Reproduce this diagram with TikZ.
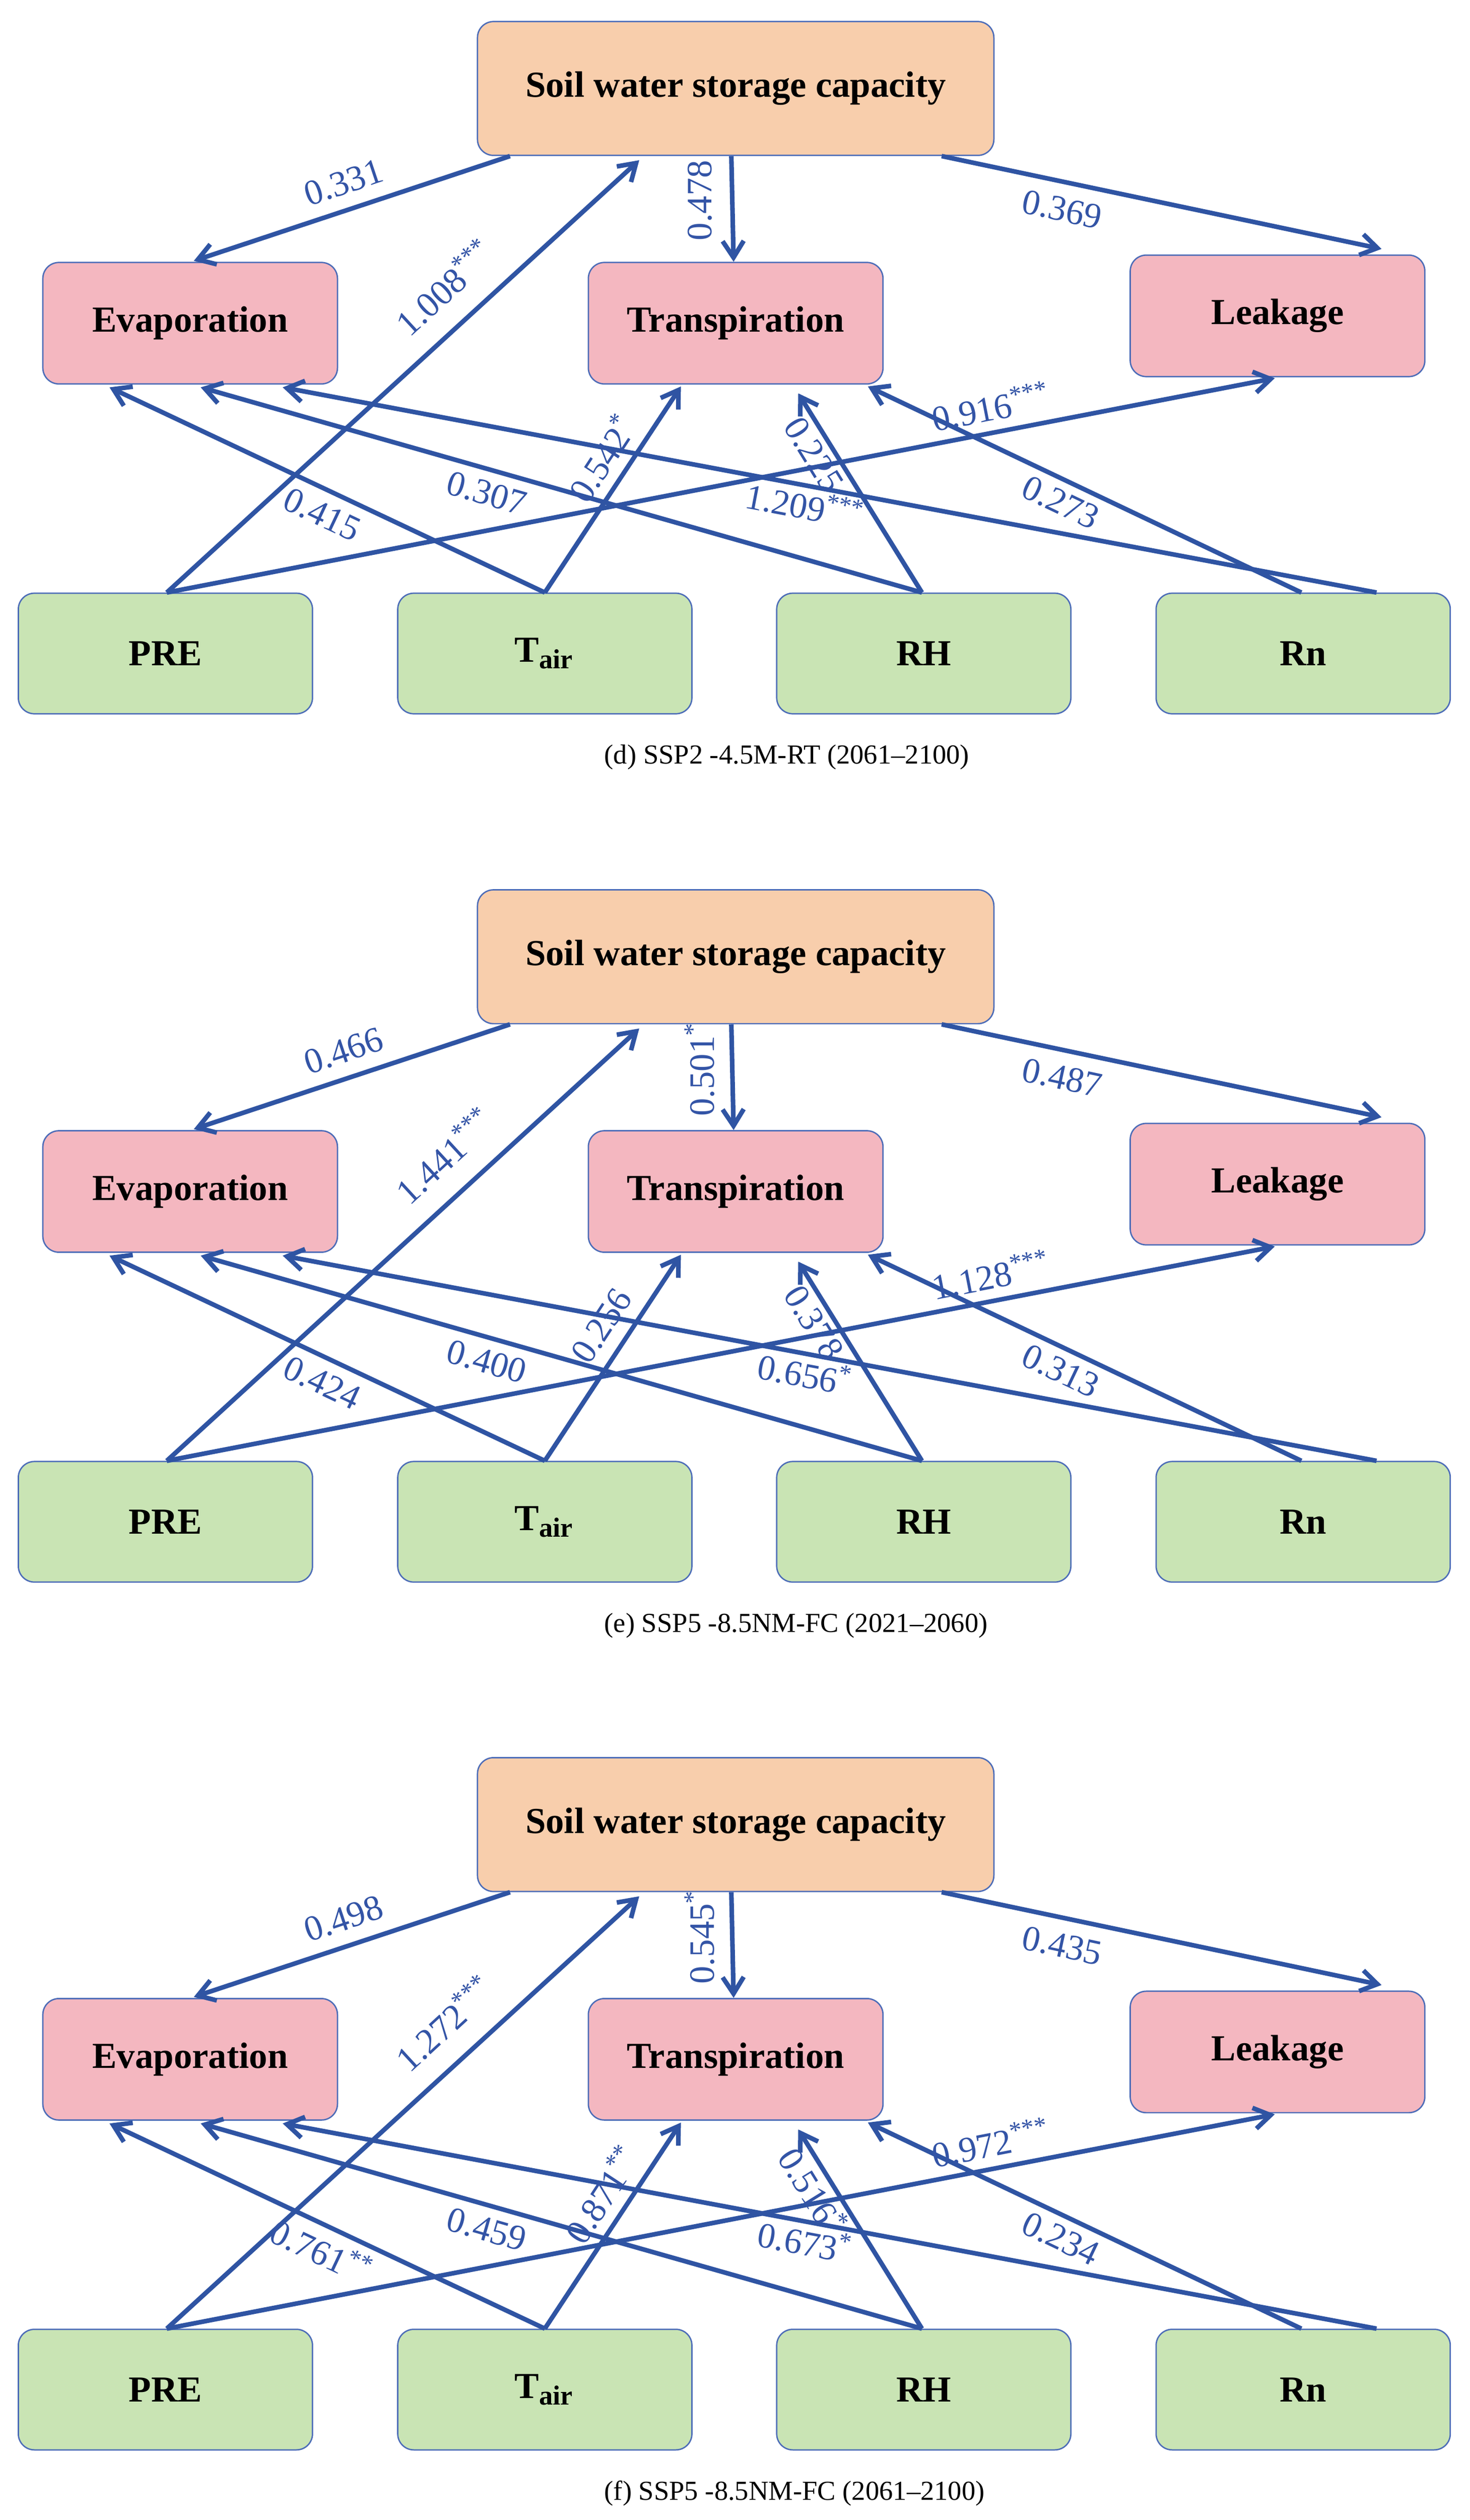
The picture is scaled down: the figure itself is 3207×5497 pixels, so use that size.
\documentclass[tikz,border=0pt]{standalone}
\usepackage{fontspec}
\setmainfont{Liberation Serif}
\usetikzlibrary{arrows.meta,calc}
\definecolor{lnblue}{HTML}{2F54A3}
\definecolor{lblblue}{HTML}{3354A6}
\definecolor{bordblue}{HTML}{4D6DB8}
\definecolor{soilfill}{HTML}{F8CEAC}
\definecolor{pinkfill}{HTML}{F4B7C0}
\definecolor{greenfill}{HTML}{C9E4B4}
\tikzset{
  box/.style={draw=bordblue, line width=0.3pt, rounded corners=3.5pt,
    font=\fontsize{8}{9.6}\selectfont\bfseries, inner sep=0pt},
  soilbox/.style={box, fill=soilfill, minimum width=112.7pt, minimum height=29.2pt},
  procbox/.style={box, fill=pinkfill, minimum width=64.3pt, minimum height=26.5pt},
  drvbox/.style={box, fill=greenfill, minimum width=64.2pt, minimum height=26.3pt},
  link/.style={draw=lnblue, line width=1pt, -{Straight Barb[length=3.6pt,width=4.6pt]}},
  coef/.style={text=lblblue, font=\fontsize{7.8}{9}\selectfont, inner sep=0pt},
  capt/.style={font=\fontsize{6}{7}\selectfont, anchor=west, inner sep=0pt},
}
\newcommand\sigmark[1]{\textsuperscript{#1}}
\newcommand\drawpanel[3]{%
  \node[soilbox] (soil#1) at (1605.5,193+#2) {Soil water storage capacity};
  \node[procbox] (evap#1) at (415,705+#2) {Evaporation};
  \node[procbox] (transp#1) at (1605.5,705+#2) {Transpiration};
  \node[procbox] (leak#1) at (2788,689+#2) {Leakage};
  \node[drvbox] (pre#1) at (361,1425.5+#2) {PRE};
  \node[drvbox] (tair#1) at (1189,1425.5+#2) {T\textsubscript{air}};
  \node[drvbox] (rh#1) at (2016,1425.5+#2) {RH};
  \node[drvbox] (rn#1) at (2844,1425.5+#2) {Rn};
  % connectors
  \draw[link] ($(soil#1.south)+(-492.5,0)$) -- ($(evap#1.north)+(8,-2)$);
  \draw[link] ($(pre#1.north)+(3,0)$) -- ($(soil#1.south)+(-210.5,9)$);
  \draw[link] ($(soil#1.south)+(-9.5,0)$) -- ($(transp#1.north)+(-4.5,0)$);
  \draw[link] ($(soil#1.south)+(449.5,0)$) -- ($(leak#1.north)+(227,-12)$);
  \draw[link] ($(tair#1.north)+(0,0)$) -- ($(evap#1.south)+(-176,6)$);
  \draw[link] ($(rh#1.north)+(-4,0)$) -- ($(evap#1.south)+(23,6)$);
  \draw[link] ($(rn#1.north)+(160,0)$) -- ($(evap#1.south)+(202,6)$);
  \draw[link] ($(tair#1.north)+(0,0)$) -- ($(transp#1.south)+(-119.5,4)$);
  \draw[link] ($(rh#1.north)+(-4,0)$) -- ($(transp#1.south)+(136.5,19)$);
  \draw[link] ($(rn#1.north)+(-4,0)$) -- ($(transp#1.south)+(288.5,4)$);
  \draw[link] ($(pre#1.north)+(3,0)$) -- ($(leak#1.south)+(-6,2)$);
  % coefficients
  \node[coef, rotate=18.5] (ca#1) at (750,398+#2) {\coefA};
  \node[coef, rotate=42.6] (cb#1) at (970,625+#2) {\coefB};
  \node[coef, rotate=90] (cc#1) at (1527,437+#2) {\coefC};
  \node[coef, rotate=-12.1] (cd#1) at (2318,457+#2) {\coefD};
  \node[coef, rotate=-25.3] (ce#1) at (703,1122+#2) {\coefE};
  \node[coef, rotate=-16.0] (cf#1) at (1062,1076+#2) {\coefF};
  \node[coef, rotate=-10.7] (cg#1) at (1758,1101+#2) {\coefG};
  \node[coef, rotate=56.7] (ch#1) at (1313,998+#2) {\coefH};
  \node[coef, rotate=-58.3] (ci#1) at (1776,992+#2) {\coefI};
  \node[coef, rotate=-25.5] (cj#1) at (2315,1096+#2) {\coefJ};
  \node[coef, rotate=11.0] (ck#1) at (2163,886+#2) {\coefK};
  \node[capt] (cap#1) at (1317,1652+#2) {#3};
}
\begin{document}
\begin{tikzpicture}[x=0.1pt,y=-0.1pt]
\fill[white] (0,0) rectangle (3207,5497);
\useasboundingbox (0,0) rectangle (3207,5497);
% panel d
\def\coefA{0.331}\def\coefB{1.008\sigmark{***}}\def\coefC{0.478}\def\coefD{0.369}
\def\coefE{0.415}\def\coefF{0.307}\def\coefG{1.209\sigmark{***}}\def\coefH{0.542\sigmark{*}}
\def\coefI{0.225}\def\coefJ{0.273}\def\coefK{0.916\sigmark{***}}
\drawpanel{d}{0}{(d) SSP2 -4.5M-RT (2061\textendash 2100)}
% panel e
\def\coefA{0.466}\def\coefB{1.441\sigmark{***}}\def\coefC{0.501\sigmark{*}}\def\coefD{0.487}
\def\coefE{0.424}\def\coefF{0.400}\def\coefG{0.656\sigmark{*}}\def\coefH{0.256}
\def\coefI{0.378}\def\coefJ{0.313}\def\coefK{1.128\sigmark{***}}
\drawpanel{e}{1894}{(e) SSP5 -8.5NM-FC (2021\textendash 2060)}
% panel f
\def\coefA{0.498}\def\coefB{1.272\sigmark{***}}\def\coefC{0.545\sigmark{*}}\def\coefD{0.435}
\def\coefE{0.761\sigmark{**}}\def\coefF{0.459}\def\coefG{0.673\sigmark{*}}\def\coefH{0.871\sigmark{**}}
\def\coefI{0.516\sigmark{*}}\def\coefJ{0.234}\def\coefK{0.972\sigmark{***}}
\drawpanel{f}{3787}{(f) SSP5 -8.5NM-FC (2061\textendash 2100)}
\end{tikzpicture}
\end{document}
